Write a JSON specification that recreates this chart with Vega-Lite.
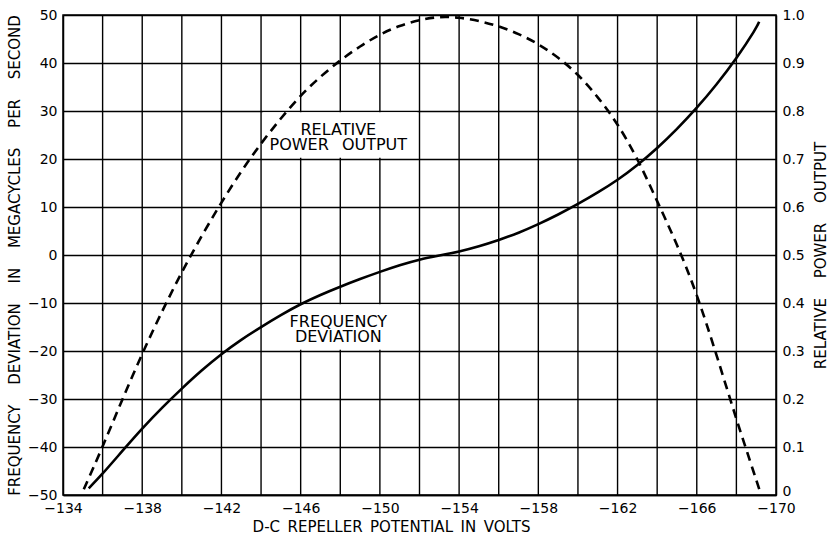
{
  "$schema": "https://vega.github.io/schema/vega-lite/v6.json",
  "width": 713,
  "height": 480,
  "autosize": {"type": "none"},
  "padding": {"left": 63, "top": 15, "right": 53, "bottom": 41},
  "background": "#ffffff",
  "config": {
    "font": "DejaVu Sans",
    "view": {"stroke": "#000000", "strokeWidth": 1.5},
    "axis": {
      "labelFont": "DejaVu Sans",
      "titleFont": "DejaVu Sans",
      "labelFontSize": 14,
      "titleFontSize": 15,
      "titleFontWeight": "normal",
      "labelColor": "#000000",
      "titleColor": "#000000",
      "gridColor": "#000000",
      "gridOpacity": 1,
      "gridWidth": 1.4,
      "domainColor": "#000000",
      "domainWidth": 1.5,
      "ticks": false,
      "labelFlush": false,
      "labelPadding": 6
    }
  },
  "datasets": {
    "vgrid": [
      {"g": -136}, {"g": -138}, {"g": -140}, {"g": -142}, {"g": -144}, {"g": -146}, {"g": -148}, {"g": -150},
      {"g": -152}, {"g": -154}, {"g": -156}, {"g": -158}, {"g": -160}, {"g": -162}, {"g": -164}, {"g": -166}, {"g": -168}
    ],
    "freq": [
      {"V": -135.3, "f": -48.6}, {"V": -136, "f": -45.6}, {"V": -137, "f": -40.8}, {"V": -138, "f": -36.1},
      {"V": -139, "f": -31.8}, {"V": -140, "f": -27.8}, {"V": -141, "f": -24.0}, {"V": -142, "f": -20.6},
      {"V": -143, "f": -17.6}, {"V": -144, "f": -15.0}, {"V": -145, "f": -12.5}, {"V": -146, "f": -10.2},
      {"V": -147, "f": -8.3}, {"V": -148, "f": -6.6}, {"V": -149, "f": -5.0}, {"V": -150, "f": -3.5},
      {"V": -151, "f": -2.1}, {"V": -152, "f": -0.9}, {"V": -153, "f": -0.1}, {"V": -154, "f": 0.7},
      {"V": -155, "f": 1.8}, {"V": -156, "f": 3.1}, {"V": -157, "f": 4.6}, {"V": -158, "f": 6.4},
      {"V": -159, "f": 8.4}, {"V": -160, "f": 10.6}, {"V": -161, "f": 13.0}, {"V": -162, "f": 15.6},
      {"V": -163, "f": 18.7}, {"V": -164, "f": 22.2}, {"V": -165, "f": 26.2}, {"V": -166, "f": 30.6},
      {"V": -167, "f": 35.5}, {"V": -168, "f": 40.9}, {"V": -169, "f": 47.2}, {"V": -169.15, "f": 48.6}
    ],
    "power": [
      {"V": -135.05, "p": 0.012}, {"V": -136, "p": 0.1}, {"V": -137, "p": 0.2}, {"V": -138, "p": 0.295},
      {"V": -139, "p": 0.383}, {"V": -140, "p": 0.465}, {"V": -141, "p": 0.54}, {"V": -142, "p": 0.61},
      {"V": -143, "p": 0.675}, {"V": -144, "p": 0.733}, {"V": -145, "p": 0.785}, {"V": -146, "p": 0.833},
      {"V": -147, "p": 0.872}, {"V": -148, "p": 0.906}, {"V": -149, "p": 0.935}, {"V": -150, "p": 0.96},
      {"V": -151, "p": 0.978}, {"V": -152, "p": 0.99}, {"V": -153, "p": 0.997}, {"V": -154, "p": 0.995},
      {"V": -155, "p": 0.988}, {"V": -156, "p": 0.977}, {"V": -157, "p": 0.961}, {"V": -158, "p": 0.94},
      {"V": -159, "p": 0.912}, {"V": -160, "p": 0.877}, {"V": -161, "p": 0.83}, {"V": -162, "p": 0.774},
      {"V": -163, "p": 0.702}, {"V": -164, "p": 0.612}, {"V": -165, "p": 0.523}, {"V": -166, "p": 0.42},
      {"V": -167, "p": 0.292}, {"V": -168, "p": 0.157}, {"V": -169, "p": 0.032}, {"V": -169.2, "p": 0.006}
    ],
    "boxes": [
      {"x1": -144.1, "x2": -151.9, "y1": 20.25, "y2": 29.75},
      {"x1": -144.1, "x2": -151.9, "y1": -10.25, "y2": -19.75}
    ],
    "labels": [
      {"tx": -147.9, "ty": 26.0, "label": "RELATIVE"},
      {"tx": -147.9, "ty": 22.9, "label": "POWER\u2002\u00a0OUTPUT"},
      {"tx": -147.9, "ty": -14.0, "label": "FREQUENCY"},
      {"tx": -147.9, "ty": -17.1, "label": "DEVIATION"}
    ]
  },
  "layer": [
    {
      "layer": [
        {
          "data": {"name": "vgrid"},
          "mark": {"type": "rule", "color": "#000000", "strokeWidth": 1.4},
          "encoding": {
            "x": {"field": "g", "type": "quantitative",
              "scale": {"domain": [-170, -134], "reverse": true, "nice": false, "zero": false},
              "title": "D-C\u2002REPELLER\u2002POTENTIAL\u2002IN\u2002VOLTS",
              "axis": {
                "values": [-134, -138, -142, -146, -150, -154, -158, -162, -166, -170],
                "grid": false,
                "labelFlush": false,
                "labelPadding": 6,
                "titleX": 328, "titleY": 31, "titleAlign": "center", "titleBaseline": "middle"
              }
            }
          }
        },
        {
          "data": {"name": "boxes"},
          "mark": {"type": "rect", "color": "#ffffff", "opacity": 1},
          "encoding": {
            "x": {"field": "x1", "type": "quantitative", "title": "D-C\u2002REPELLER\u2002POTENTIAL\u2002IN\u2002VOLTS"},
            "x2": {"field": "x2"},
            "y": {"field": "y1", "type": "quantitative",
              "scale": {"domain": [-50, 50], "nice": false, "zero": false},
              "title": "FREQUENCY\u2003\u00a0DEVIATION\u2003\u00a0IN\u2003\u00a0MEGACYCLES\u2003\u00a0PER\u2003\u00a0SECOND",
              "axis": {
                "values": [-50, -40, -30, -20, -10, 0, 10, 20, 30, 40, 50],
                "grid": true,
                "titleX": -49, "titleY": 240, "titleAngle": 270, "titleAlign": "center", "titleBaseline": "middle"
              }
            },
            "y2": {"field": "y2"}
          }
        },
        {
          "data": {"name": "freq"},
          "mark": {"type": "line", "color": "#000000", "strokeWidth": 2.6, "interpolate": "basis"},
          "encoding": {
            "x": {"field": "V", "type": "quantitative", "title": "D-C\u2002REPELLER\u2002POTENTIAL\u2002IN\u2002VOLTS"},
            "y": {"field": "f", "type": "quantitative", "title": "FREQUENCY\u2003\u00a0DEVIATION\u2003\u00a0IN\u2003\u00a0MEGACYCLES\u2003\u00a0PER\u2003\u00a0SECOND"}
          }
        },
        {
          "data": {"name": "labels"},
          "mark": {"type": "text", "font": "DejaVu Sans", "fontSize": 16, "color": "#000000", "align": "center", "baseline": "middle"},
          "encoding": {
            "x": {"field": "tx", "type": "quantitative", "title": "D-C\u2002REPELLER\u2002POTENTIAL\u2002IN\u2002VOLTS"},
            "y": {"field": "ty", "type": "quantitative", "title": "FREQUENCY\u2003\u00a0DEVIATION\u2003\u00a0IN\u2003\u00a0MEGACYCLES\u2003\u00a0PER\u2003\u00a0SECOND"},
            "text": {"field": "label"}
          }
        }
      ]
    },
    {
      "data": {"name": "power"},
      "mark": {"type": "line", "color": "#000000", "strokeWidth": 2.6, "strokeDash": [9, 6], "interpolate": "basis"},
      "encoding": {
        "x": {"field": "V", "type": "quantitative", "title": "D-C\u2002REPELLER\u2002POTENTIAL\u2002IN\u2002VOLTS"},
        "y": {"field": "p", "type": "quantitative",
          "scale": {"domain": [0, 1], "nice": false, "zero": false},
          "title": "RELATIVE\u2003\u00a0POWER\u2003\u00a0OUTPUT",
          "axis": {
            "orient": "right",
            "values": [0, 0.1, 0.2, 0.3, 0.4, 0.5, 0.6, 0.7, 0.8, 0.9, 1.0],
            "labelExpr": "datum.value == 0 ? '0' : format(datum.value, '.1f')",
            "labelOffset": {"condition": {"test": "datum.value == 0", "value": -4}, "value": 0},
            "grid": false,
            "titleX": 44, "titleY": 240, "titleAngle": 270, "titleAlign": "center", "titleBaseline": "middle"
          }
        }
      }
    }
  ],
  "resolve": {"scale": {"y": "independent"}}
}
